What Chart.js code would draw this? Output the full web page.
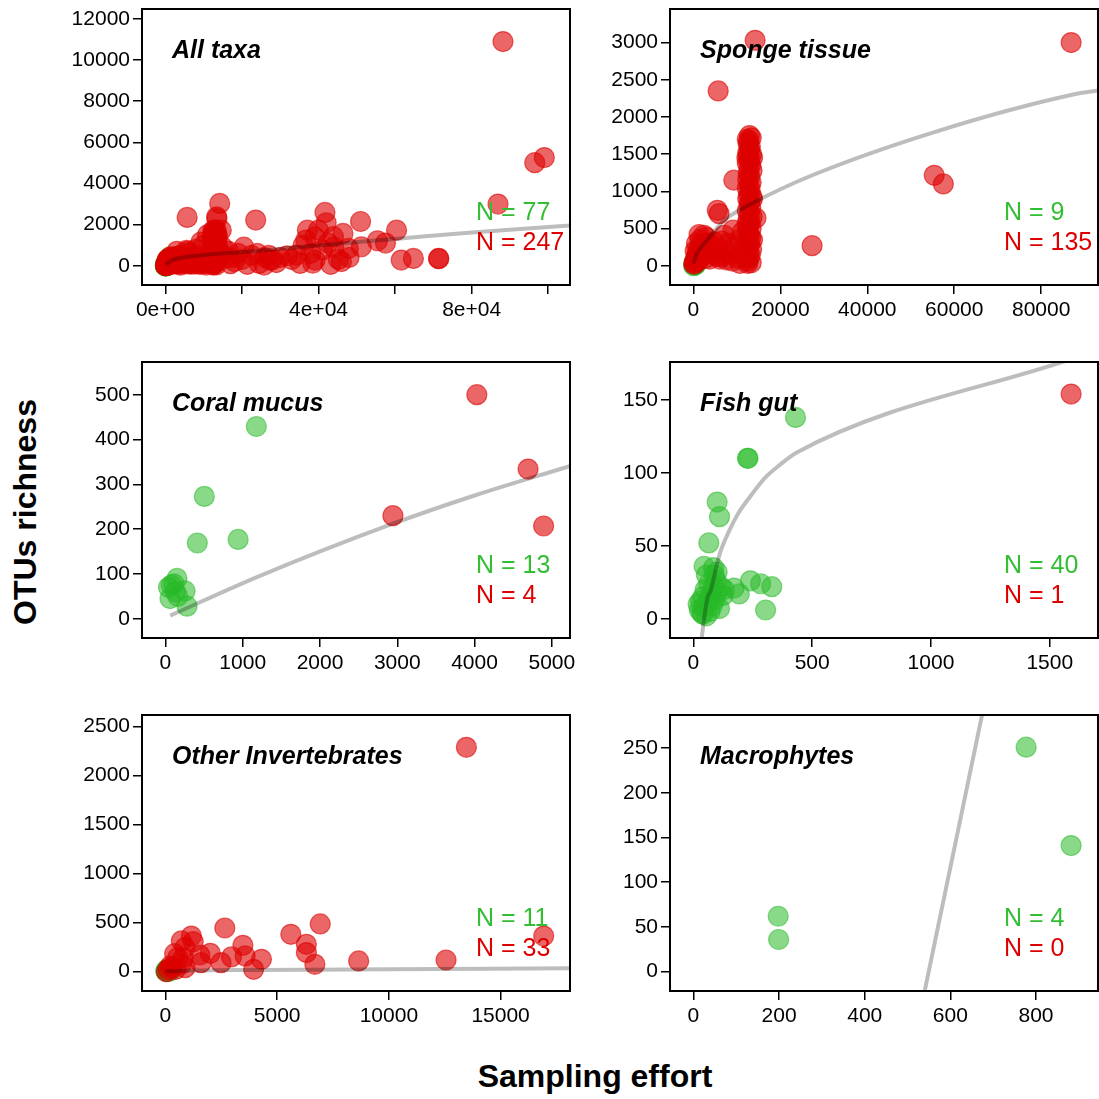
<!DOCTYPE html>
<html>
<head>
<meta charset="utf-8">
<script src="https://cdn.jsdelivr.net/npm/chart.js@4.4.1/dist/chart.umd.min.js"></script>
<style>
  html, body { margin: 0; padding: 0; background: #fff; overflow: hidden; }
  #fig { position: relative; width: 1099px; height: 1099px; overflow: hidden; }
  #fig canvas { position: absolute; }
  .axt { position: absolute; font: bold 32px 'Liberation Sans', Arial, sans-serif; color: #000; white-space: nowrap; }
  #xlab { left: 595px; top: 1076px; transform: translate(-50%, -50%); }
  #ylab { left: 25px; top: 512px; transform: translate(-50%, -50%) rotate(-90deg); }
</style>
</head>
<body>
<div id="fig">
  <div class="axt" id="xlab">Sampling effort</div>
  <div class="axt" id="ylab">OTUs richness</div>
</div>
<script>
// ── Data (sampling effort, OTU richness) ─────────────────────────
const panelTitles = ['All taxa', 'Sponge tissue', 'Coral mucus', 'Fish gut', 'Other Invertebrates', 'Macrophytes'];
const nGreenLabels = [77, 9, 13, 40, 11, 4];
const nRedLabels   = [247, 135, 4, 1, 33, 0];

const spongeGreen = [[100,10],[200,25],[300,5],[400,30],[500,15],[150,40],[600,20],[250,50],[50,0]];
const spongeRed = [
  [14200,3030],[86900,3000],[5700,2350],[55400,1215],[57500,1100],[27300,270],[9300,1150],[5500,745],[5900,700],[14400,640],
  [12400,1700],[12800,1680],[13300,1720],[12600,1640],[13100,1600],[12900,1560],[12500,1520],[13400,1500],[12700,1460],[13000,1420],
  [12400,1380],[13200,1350],[12800,1300],[13500,1280],[12600,1240],[13000,1200],[12500,1160],[13300,1120],[12900,1080],[12400,1040],
  [13100,1000],[12700,960],[13400,930],[12500,900],[13000,860],[12800,820],[13200,780],[12400,740],[12900,700],[13500,660],
  [12600,620],[13100,580],[12700,540],[13300,500],[12500,460],[12900,420],[13200,380],[12400,340],[13000,300],[12700,260],
  [13400,220],[12600,180],[13100,140],[12800,100],[12400,60],[13300,40],[12900,1750],[13600,1450],[13600,900],[13600,350],
  [12300,1450],[12300,560],
  [10700,30],[12500,30],[9100,480],[7100,410],[6300,120],[4000,255],[2400,410],[3000,380],[3500,300],[2000,300],
  [1500,250],[1000,200],[800,150],[500,100],[300,60],[200,30],[600,40],[1200,80],[1800,120],[2500,150],
  [3200,200],[4500,180],[5200,130],[6000,90],[7000,200],[8000,300],[8500,150],[9500,250],[10500,350],[11000,150],
  [1500,350],[2200,200],[2800,100],[3800,90],[4800,320],[5600,250],[6600,330],[7600,80],[9000,60],[10200,100],
  [11200,450],[700,300],[1300,420],[400,200],[100,20],[11500,250]
];

const coralGreen = [[1177,429],[504,273],[413,169],[941,177],[150,90],[75,75],[255,62],[280,28],[60,45],[110,78],[160,50],[40,70],[130,60]];
const coralRed = [[4030,500],[4693,334],[2944,230],[4894,207]];

const fishGreen = [
  [430,138],[228,110],[230,110],[100,80],[110,70],[65,52],[45,36],[100,32],[88,30],[240,26],
  [283,24],[330,22],[171,21],[193,17],[304,6],[110,7],
  [20,10],[25,6],[30,12],[35,4],[40,15],[45,8],[50,20],[55,2],[60,11],[65,24],
  [70,14],[75,18],[80,9],[85,22],[90,13],[95,26],[100,18],[115,22],[125,16],[130,20],
  [40,3],[70,5],[55,30],[85,35]
];
const fishRed = [[1590,154]];

const invGreen = [[20,5],[30,12],[50,2],[60,18],[80,8],[100,22],[120,4],[150,14],[180,26],[200,6],[250,16]];
const invRed = [
  [13470,2286],[16930,363],[12560,119],[8650,109],[6930,486],[5615,380],[6310,279],[6310,194],[6690,75],[2660,445],
  [3470,268],[4300,126],[3950,24],[3570,160],[2960,150],[2490,92],[2010,187],[1595,92],[1545,170],[1163,363],
  [1246,306],[714,313],[880,245],[415,183],[548,143],[714,75],[299,41],[133,24],[465,24],[880,41],
  [50,0],[216,58],[797,143]
];

const macroGreen = [[198,62],[199,36],[777,251],[882,141]];
const macroRed = [];

// points seen only in the pooled panel
const allExtraRed = [
  [88200,10900],[96500,5010],[99000,5260],[23600,2220],[41700,2590],[42000,2090],[51000,2150],[60400,1730],[37100,1730],[61600,275],
  [64800,356],[71400,356],[71400,340],[31800,485],[35200,113],[39100,275],[43200,65],[45200,307],[47800,841],[46400,1570],
  [51200,922],[43900,1410],[41000,760],[36700,1245],[40000,1730],[34200,518],[27900,275],[25800,32],[21400,65],[24500,113],
  [13400,2380],[14600,1730],[22500,500],[20000,300],[18000,200],[16000,400],[17000,100],[19000,600],[26000,400],[29000,150],
  [33000,300],[38000,600],[44000,900],[48000,400],[10000,1000],[8000,800],[6000,600],[4000,500],[3000,700],[2000,400],
  [11000,1500],[9000,300],[7000,200],[15000,900],[16500,700],[1000,150],[500,300],[20500,900],[24000,600],[27000,500],
  [30000,400],[36000,1000],[39000,1400],[46000,200],[42500,1100],[38500,120]
];
const allGreen = [].concat(spongeGreen, coralGreen, fishGreen, invGreen, macroGreen);
const allRed = [].concat(spongeRed, coralRed, fishRed, invRed, allExtraRed);

// fitted curves
const allCurve    = [[100,40],[1500,250],[4000,380],[7000,460],[12000,560],[20000,660],[30000,820],[45000,1070],[60000,1300],[80000,1620],[106000,1960]];
const spongeCurve = [[0,30],[800,165],[3170,344],[7130,612],[13470,836],[27330,1216],[55450,1797],[87130,2298],[93100,2356]];
const coralCurve  = [[62,7],[1215,95],[2944,212],[4000,275],[5240,341]];
const fishCurve   = [[30,-20],[45,0],[60,15],[72,19],[100,38],[116,47],[150,60],[188,72],[240,84],[304,97],[360,105],[435,114],[1590,178]];
const invCurve    = [[0,5],[1000,12],[4000,18],[10000,25],[18200,34]];
const macroCurve  = [[535,-33],[680,301]];

// ticks
const allXTicks = [0, 20000, 40000, 60000, 80000, 100000];
const allXLabels = ['0e+00', '', '4e+04', '', '8e+04', ''];
const allYTicks = [0, 2000, 4000, 6000, 8000, 10000, 12000];
const spongeXTicks = [0, 20000, 40000, 60000, 80000];
const spongeYTicks = [0, 500, 1000, 1500, 2000, 2500, 3000];
const coralXTicks = [0, 1000, 2000, 3000, 4000, 5000];
const coralYTicks = [0, 100, 200, 300, 400, 500];
const fishXTicks = [0, 500, 1000, 1500];
const fishYTicks = [0, 50, 100, 150];
const invXTicks = [0, 5000, 10000, 15000];
const invYTicks = [0, 500, 1000, 1500, 2000, 2500];
const macroXTicks = [0, 200, 400, 600, 800];
const macroYTicks = [0, 50, 100, 150, 200, 250];

// axis ranges [min, max]
const xRanges = [[-6110, 105700], [-5390, 93070], [-303, 5235], [-98.5, 1703], [-1047, 18106], [-54.7, 944.7]];
const yRanges = [[-938, 12485], [-259, 3451], [-43, 573], [-13.2, 176], [-197, 2615], [-21.6, 287]];

// ── Layout ───────────────────────────────────────────────────────
const FONT = "'Liberation Sans', Arial, Helvetica, sans-serif";
const COL_LEFT = [142, 670];
const ROW_TOP = [9, 362, 715];
const BOX_W = 428, BOX_H = 276;
const Y_AXIS_W = 110, X_AXIS_H = 60, PAD_T = 20, PAD_R = 24;

const RED = 'rgba(222,0,0,0.6)';
const GREEN = 'rgba(40,185,40,0.55)';
const CURVE = 'rgba(0,0,0,0.26)';

const panels = [
  { green: allGreen,    red: allRed,    curve: allCurve,    xt: allXTicks,    xl: allXLabels,                 yt: allYTicks },
  { green: spongeGreen, red: spongeRed, curve: spongeCurve, xt: spongeXTicks, xl: spongeXTicks.map(String),   yt: spongeYTicks },
  { green: coralGreen,  red: coralRed,  curve: coralCurve,  xt: coralXTicks,  xl: coralXTicks.map(String),    yt: coralYTicks },
  { green: fishGreen,   red: fishRed,   curve: fishCurve,   xt: fishXTicks,   xl: fishXTicks.map(String),     yt: fishYTicks },
  { green: invGreen,    red: invRed,    curve: invCurve,    xt: invXTicks,    xl: invXTicks.map(String),      yt: invYTicks },
  { green: macroGreen,  red: macroRed,  curve: macroCurve,  xt: macroXTicks,  xl: macroXTicks.map(String),    yt: macroYTicks },
];

const toPts = arr => arr.map(([x, y]) => ({ x, y }));

// box, panel title and N counts
const decor = {
  id: 'decor',
  afterDraw(chart, args, opts) {
    const { ctx, chartArea: a } = chart;
    ctx.save();
    ctx.strokeStyle = '#000';
    ctx.lineWidth = 2;
    ctx.strokeRect(a.left, a.top, a.right - a.left, a.bottom - a.top);
    ctx.textBaseline = 'alphabetic';
    ctx.textAlign = 'left';
    ctx.fillStyle = '#000';
    ctx.font = `italic bold 25px ${FONT}`;
    ctx.fillText(opts.title, a.left + 30, a.top + 49);
    ctx.font = `25px ${FONT}`;
    ctx.fillStyle = 'rgb(50,190,50)';
    ctx.fillText('N = ' + opts.nGreen, a.left + 334, a.top + 211);
    ctx.fillStyle = 'rgb(222,0,0)';
    ctx.fillText('N = ' + opts.nRed, a.left + 334, a.top + 241);
    ctx.restore();
  }
};
Chart.register(decor);

function axisOpts(range, ticks, labels, isX) {
  return {
    type: 'linear',
    bounds: 'data',
    min: range[0],
    max: range[1],
    afterBuildTicks: s => { s.ticks = ticks.map(v => ({ value: v })); },
    afterFit: s => { if (isX) s.height = X_AXIS_H; else s.width = Y_AXIS_W; },
    grid: { drawOnChartArea: false, drawTicks: true, tickLength: 9, color: '#000', lineWidth: 1.5 },
    border: { display: false },
    ticks: {
      autoSkip: false,
      maxRotation: 0,
      minRotation: 0,
      padding: isX ? 4 : 3,
      color: '#000',
      font: { family: FONT, size: 21 },
      callback: (v, i) => labels[i],
    },
  };
}

const fig = document.getElementById('fig');
panels.forEach((p, k) => {
  const col = k % 2, row = Math.floor(k / 2);
  const c = document.createElement('canvas');
  c.width = Y_AXIS_W + BOX_W + PAD_R;
  c.height = PAD_T + BOX_H + X_AXIS_H;
  c.style.left = (COL_LEFT[col] - Y_AXIS_W) + 'px';
  c.style.top = (ROW_TOP[row] - PAD_T) + 'px';
  fig.appendChild(c);

  new Chart(c, {
    type: 'scatter',
    data: {
      datasets: [
        { type: 'line', data: toPts(p.curve), borderColor: CURVE, borderWidth: 4, pointRadius: 0,
          cubicInterpolationMode: 'monotone', fill: false },
        { data: toPts(p.red), backgroundColor: RED, borderColor: RED, borderWidth: 1.2, pointRadius: 10 },
        { data: toPts(p.green), backgroundColor: GREEN, borderColor: GREEN, borderWidth: 1.2, pointRadius: 10 },
      ]
    },
    options: {
      responsive: false,
      animation: false,
      devicePixelRatio: 1,
      layout: { padding: { top: PAD_T, right: PAD_R, left: 0, bottom: 0 } },
      plugins: {
        legend: { display: false },
        tooltip: { enabled: false },
        decor: { title: panelTitles[k], nGreen: nGreenLabels[k], nRed: nRedLabels[k] },
      },
      scales: {
        x: axisOpts(xRanges[k], p.xt, p.xl, true),
        y: axisOpts(yRanges[k], p.yt, p.yt.map(String), false),
      },
    },
  });
});
</script>
</body>
</html>
